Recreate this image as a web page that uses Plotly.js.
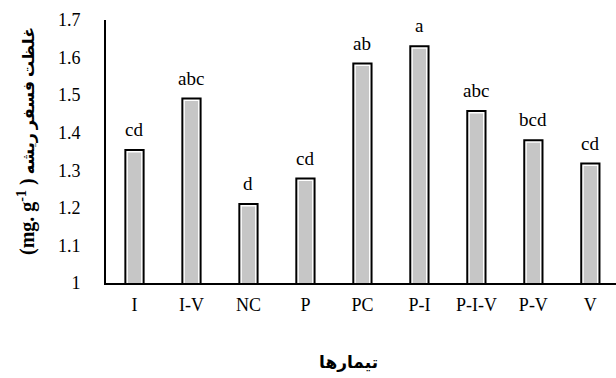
<!DOCTYPE html>
<html>
<head>
<meta charset="utf-8">
<script src="https://cdn.plot.ly/plotly-3.0.1.min.js"></script>
<style>
  html, body { margin: 0; padding: 0; background: #fff; }
  #chart { width: 616px; height: 378px; }
</style>
</head>
<body>
<div id="chart"></div>
<script>
// Treatments, root phosphorus concentration and significance letters
const treatments = ['I', 'I-V', 'NC', 'P', 'PC', 'P-I', 'P-I-V', 'P-V', 'V'];
const phosphorus = [1.354, 1.491, 1.210, 1.278, 1.584, 1.630, 1.458, 1.380, 1.318];
const groups = ['cd', 'abc', 'd', 'cd', 'ab', 'a', 'abc', 'bcd', 'cd'];
const yTicks = [1, 1.1, 1.2, 1.3, 1.4, 1.5, 1.6, 1.7];
const yTickText = ['1', '1.1', '1.2', '1.3', '1.4', '1.5', '1.6', '1.7'];

const serif = '"Liberation Serif", "Times New Roman", serif';
const titleFont = '"Liberation Serif", "DejaVu Sans", serif';
const barWidth = 0.32;

// Gray body with a white inner rim
const fillTrace = {
  type: 'bar',
  x: treatments,
  y: phosphorus,
  width: barWidth,
  marker: { color: '#c6c6c6', line: { color: '#ffffff', width: 5 } },
  hoverinfo: 'skip'
};

// Black outline drawn over the body
const outlineTrace = {
  type: 'bar',
  x: treatments,
  y: phosphorus,
  width: barWidth,
  marker: { color: 'rgba(0,0,0,0)', line: { color: '#000000', width: 2 } },
  hoverinfo: 'skip'
};

// Letters above each bar
const letterNotes = treatments.map((t, i) => ({
  x: t,
  y: phosphorus[i],
  xref: 'x',
  yref: 'y',
  text: groups[i],
  showarrow: false,
  yanchor: 'bottom',
  yshift: 8,
  font: { family: serif, size: 19, color: '#000' }
}));

const layout = {
  width: 616,
  height: 378,
  margin: { l: 106, r: 0, t: 20, b: 95 },
  paper_bgcolor: '#ffffff',
  plot_bgcolor: '#ffffff',
  showlegend: false,
  barmode: 'overlay',
  xaxis: {
    type: 'category',
    range: [-0.5, 8.45],
    showline: true,
    linecolor: '#000',
    linewidth: 2,
    ticks: '',
    showgrid: false,
    zeroline: false,
    tickfont: { family: serif, size: 18, color: '#000' },
    ticklabelstandoff: 4,
    layer: 'above traces'
  },
  yaxis: {
    range: [1, 1.7],
    tickvals: yTicks,
    ticktext: yTickText,
    showline: true,
    linecolor: '#000',
    linewidth: 2,
    ticks: '',
    showgrid: false,
    zeroline: false,
    tickfont: { family: serif, size: 18, color: '#000' },
    ticklabelstandoff: 20,
    layer: 'above traces'
  },
  annotations: letterNotes.concat([
    {
      xref: 'paper', yref: 'paper',
      x: (26 - 106) / 510, y: (283 - 141) / 263,
      xanchor: 'center', yanchor: 'middle',
      textangle: -90,
      showarrow: false,
      text: '<b><span style="font-size:20px">(mg. g<sup>-1</sup> )</span> غلظت فسفر ریشه</b>',
      font: { family: titleFont, size: 16, color: '#000' }
    },
    {
      xref: 'paper', yref: 'paper',
      x: (348 - 106) / 510, y: (283 - 362) / 263,
      xanchor: 'center', yanchor: 'middle',
      showarrow: false,
      text: '<b>تیمارها</b>',
      font: { family: titleFont, size: 17, color: '#000' }
    }
  ])
};

Plotly.newPlot('chart', [fillTrace, outlineTrace], layout, { displayModeBar: false, staticPlot: true });
</script>
</body>
</html>
